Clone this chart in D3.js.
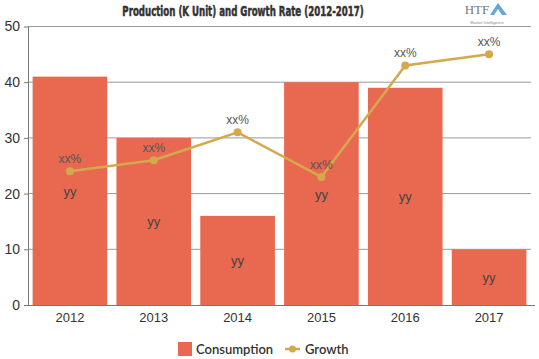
<!DOCTYPE html>
<html><head><meta charset="utf-8">
<script src="https://cdn.jsdelivr.net/npm/d3@7"></script>
<style>body{margin:0;background:#fff}svg{display:block}</style>
</head><body>
<svg id="c" width="539" height="359"></svg>
<script>
const years = ["2012","2013","2014","2015","2016","2017"];
const consumption = [41, 30, 16, 40, 39, 10];
const growth = [24, 26, 31, 23, 43, 45];
const barLabels = ["yy","yy","yy","yy","yy","yy"];
const pointLabels = ["xx%","xx%","xx%","xx%","xx%","xx%"];
const yTicks = [0, 10, 20, 30, 40, 50];

const svg = d3.select("#c");
const barColor = "#E8694F", lineColor = "#D4A94E";
const x = d3.scaleBand().domain(years).range([28, 531]).paddingInner(0.11).paddingOuter(0.055);
const y = d3.scaleLinear().domain([0, 50]).range([305, 26.5]);

// grid
svg.append("g").selectAll("line").data(yTicks.filter(d => d > 0)).join("line")
  .attr("x1", 28).attr("x2", 531).attr("y1", d => y(d)).attr("y2", d => y(d))
  .attr("stroke", "#999").attr("stroke-width", 1);

// bars
svg.append("g").selectAll("rect").data(consumption).join("rect")
  .attr("x", (d, i) => x(years[i])).attr("width", x.bandwidth())
  .attr("y", d => y(d)).attr("height", d => y(0) - y(d)).attr("fill", barColor);

// bar labels
svg.append("g").selectAll("text").data(consumption).join("text")
  .attr("x", (d, i) => x(years[i]) + x.bandwidth() / 2).attr("y", d => y(d / 2) + 5)
  .attr("text-anchor", "middle").attr("font-family", "Liberation Sans, Arial, sans-serif")
  .attr("font-size", 13).attr("fill", "#444").text((d, i) => barLabels[i]);

// axes
const ya = d3.axisLeft(y).tickValues(yTicks).tickSize(4).tickSizeOuter(0);
const yg = svg.append("g").attr("transform", "translate(28,0)").call(ya);
yg.select(".domain").attr("stroke", "#777");
yg.selectAll(".tick line").attr("stroke", "#777");
yg.selectAll("text").attr("font-family", "Liberation Sans, Arial, sans-serif").attr("font-size", 14).attr("fill", "#333").attr("dx", -1);

const xa = d3.axisBottom(x).tickSize(0).tickSizeOuter(0);
const xg = svg.append("g").attr("transform", "translate(0,305)").call(xa);
xg.select(".domain").attr("stroke", "#777").attr("d", "M28,0.5H535");
xg.selectAll("text").attr("font-family", "Liberation Sans, Arial, sans-serif").attr("font-size", 13).attr("fill", "#333").attr("dy", "1.05em");

// line
const cx = (d, i) => x(years[i]) + x.bandwidth() / 2;
svg.append("path").datum(growth)
  .attr("d", d3.line().x(cx).y(d => y(d)))
  .attr("fill", "none").attr("stroke", lineColor).attr("stroke-width", 2.5);
svg.append("g").selectAll("circle").data(growth).join("circle")
  .attr("cx", cx).attr("cy", d => y(d)).attr("r", 4).attr("fill", lineColor);
svg.append("g").selectAll("text").data(growth).join("text")
  .attr("x", cx).attr("y", d => y(d) - 8)
  .attr("text-anchor", "middle").attr("font-family", "Liberation Sans, Arial, sans-serif")
  .attr("font-size", 12).attr("fill", "#555").text((d, i) => pointLabels[i]);

// title
svg.append("g").attr("transform", "translate(243,16) scale(1,1.45)")
  .append("text").attr("x", 0).attr("y", 0).attr("text-anchor", "middle")
  .attr("font-family", "DejaVu Sans Condensed, sans-serif").attr("font-weight", "bold")
  .attr("font-size", 9.6).attr("fill", "#333").attr("stroke", "#333").attr("stroke-width", 0.35)
  .text("Production (K Unit) and Growth Rate (2012-2017)");

// logo
const logo = svg.append("g");
logo.append("text").attr("x", 477).attr("y", 14).attr("text-anchor", "middle")
  .attr("font-family", "Liberation Serif, serif").attr("font-size", 13).attr("fill", "#777").text("HTF");
logo.append("path").attr("d", "M490,15 L498,3 L507,15 Z").attr("fill", "#3E8FD0").attr("opacity", 0.8);
logo.append("path").attr("d", "M494,15 L498,9 L502,15 Z").attr("fill", "#fff");
logo.append("text").attr("x", 487).attr("y", 24).attr("text-anchor", "middle")
  .attr("font-family", "Liberation Sans, sans-serif").attr("font-size", 4).attr("fill", "#888").text("Market Intelligence");

// legend
const lg = svg.append("g").attr("font-family", "Lato, Open Sans, sans-serif").attr("font-size", 13).attr("fill", "#333");
lg.append("rect").attr("x", 178).attr("y", 342).attr("width", 14).attr("height", 14).attr("fill", barColor);
lg.append("text").attr("x", 196).attr("y", 354).attr("font-weight", 600).text("Consumption");
lg.append("line").attr("x1", 285).attr("x2", 300).attr("y1", 349).attr("y2", 349).attr("stroke", lineColor).attr("stroke-width", 2.5);
lg.append("circle").attr("cx", 292.5).attr("cy", 349).attr("r", 3.5).attr("fill", lineColor);
lg.append("text").attr("x", 305).attr("y", 354).attr("font-weight", 600).text("Growth");
</script>
</body></html>
